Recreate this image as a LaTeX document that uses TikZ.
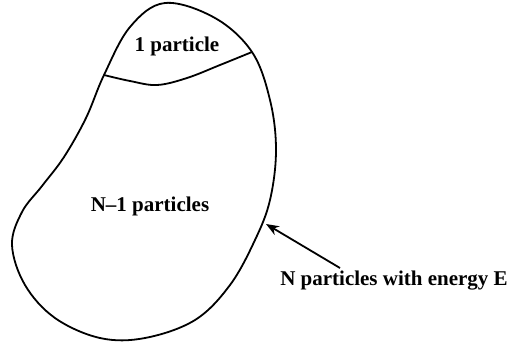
\documentclass[tikz,border=0pt]{standalone}
\usepackage{fontspec}
\setmainfont{Liberation Serif}
\usetikzlibrary{arrows.meta}
\begin{document}
\begin{tikzpicture}[x=1pt,y=-1pt,
  outline/.style={line width=1.8pt, line join=round},
  lbl/.style={font=\fontsize{21}{25}\selectfont\bfseries, inner sep=0pt},
  pointer/.style={line width=1.8pt, -{Stealth[length=13pt,width=10pt]}}]
\useasboundingbox (0,0) rectangle (509,341);
\draw[outline] plot[smooth cycle, tension=0.6] coordinates {
  (165,3) (215,18) (252,52) (270,100) (276,150) (270,200) (255,240)
  (230,285) (195,320) (145,338) (100,338) (55,318) (25,285) (12,245)
  (22,212) (42,186) (64,157) (86,118) (104,75) (130,27)};
\draw[outline] plot[smooth, tension=0.6] coordinates {
  (104,75) (130,81) (157,85) (187,78) (220,65) (252,52)};
\node[lbl] (one) at (177,46) {1 particle};
\node[lbl] (rest) at (150,206) {N--1 particles};
\node[lbl] (all) at (394,281) {N particles with energy E};
\coordinate (tail) at (340,268);
\coordinate (head) at (266,224);
\draw[pointer] (tail) -- (head);
\end{tikzpicture}
\end{document}
